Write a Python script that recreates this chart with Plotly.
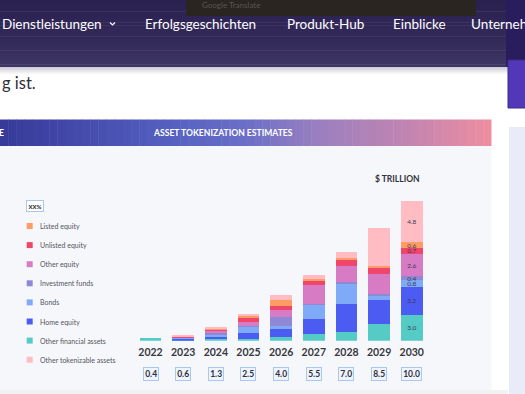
import numpy as np
import plotly.graph_objects as go

# ---------------- data ----------------
years = ["2022", "2023", "2024", "2025", "2026", "2027", "2028", "2029", "2030"]

# stacked bottom -> top
other_financial_assets = [0.31, 0.10, 0.15, 0.20, 0.38, 0.75, 0.95, 1.9, 3.0]
home_equity = [0.00, 0.18, 0.31, 0.65, 1.10, 1.70, 3.25, 2.8, 3.2]
bonds = [0.00, 0.08, 0.23, 0.80, 0.19, 1.70, 2.40, 0.5, 0.8]
investment_funds = [0.00, 0.00, 0.15, 0.05, 1.07, 0.05, 0.10, 0.2, 0.4]
other_equity = [0.00, 0.06, 0.23, 0.50, 0.84, 2.25, 1.90, 2.3, 2.6]
unlisted_equity = [0.00, 0.06, 0.23, 0.45, 0.38, 0.40, 0.65, 0.6, 0.7]
listed_equity = [0.00, 0.04, 0.08, 0.22, 0.77, 0.25, 0.25, 0.3, 0.6]
other_tokenizable_assets = [0.00, 0.08, 0.12, 0.23, 0.47, 0.50, 0.70, 4.4, 4.8]

total_labels = ["0.31", "0.6", "1.5", "3.1", "5.2", "7.6", "10.2", "13.0", "16.1"]
box_values = ["0.4", "0.6", "1.3", "2.5", "4.0", "5.5", "7.0", "8.5", "10.0"]
labelled_year = "2030"

series_names = ["Other financial assets", "Home equity", "Bonds", "Investment funds",
                "Other equity", "Unlisted equity", "Listed equity", "Other tokenizable assets"]
series_values = [other_financial_assets, home_equity, bonds, investment_funds,
                 other_equity, unlisted_equity, listed_equity, other_tokenizable_assets]
legend_order = ["Listed equity", "Unlisted equity", "Other equity", "Investment funds",
                "Bonds", "Home equity", "Other financial assets", "Other tokenizable assets"]

nav_items = ["Dienstleistungen", "Erfolgsgeschichten", "Produkt-Hub", "Einblicke", "Unternehmen"]

# ---------------- styles ----------------
colors = {
    "Other financial assets": "#55cbc5",
    "Home equity": "#4c5cf3",
    "Bonds": "#7eaaf8",
    "Investment funds": "#8e88d6",
    "Other equity": "#d77bc5",
    "Unlisted equity": "#f0466c",
    "Listed equity": "#ff9b64",
    "Other tokenizable assets": "#ffbcc2",
}
W, H = 525, 394
FONT = "Lato"
X_DOMAIN = [134.2 / W, 428.1 / W]


def px(x):
    return x / W


def py(y):
    return 1 - y / H


def hexlerp(c1, c2, t):
    a = [int(c1[i:i + 2], 16) for i in (1, 3, 5)]
    b = [int(c2[i:i + 2], 16) for i in (1, 3, 5)]
    return "#" + "".join(f"{int(round(a[k] + (b[k] - a[k]) * t)):02x}" for k in range(3))


def grad(stops, t):
    for i in range(len(stops) - 1):
        p0, c0 = stops[i]
        p1, c1 = stops[i + 1]
        if p0 <= t <= p1:
            return hexlerp(c0, c1, (t - p0) / (p1 - p0) if p1 > p0 else 0)
    return stops[-1][1]


fig = go.Figure()

for name, vals in zip(series_names, series_values):
    seg_text = [f"{v:.1f}" if yr == labelled_year else "" for yr, v in zip(years, vals)]
    fig.add_trace(go.Bar(
        x=years, y=vals, name=name, marker=dict(color=colors[name], line=dict(width=0)),
        text=seg_text, textposition="inside", insidetextanchor="middle",
        constraintext="none", cliponaxis=False, textangle=0,
        textfont=dict(family=FONT, size=6.5, color="#3a3a55"),
        showlegend=False, hoverinfo="skip",
    ))

shapes = []
annotations = []

# ---- page background decorations ----
nav_stops = [(0, "#2a2150"), (0.6, "#332a5a"), (1, "#3d3663")]
N = 24
for i in range(N):
    y0 = i * 67 / N
    y1 = (i + 1) * 67 / N + 0.5
    shapes.append(dict(type="rect", xref="paper", yref="paper", x0=0, x1=1,
                       y0=py(y1), y1=py(y0), fillcolor=grad(nav_stops, i / (N - 1)),
                       line=dict(width=0), layer="below"))
for i in range(8):
    shapes.append(dict(type="rect", xref="paper", yref="paper", x0=0, x1=1,
                       y0=py(67 + i + 1), y1=py(67 + i),
                       fillcolor=hexlerp("#cfcdd8", "#ffffff", i / 7),
                       line=dict(width=0), layer="below"))
shapes.append(dict(type="rect", xref="paper", yref="paper", x0=px(506), x1=1,
                   y0=py(67), y1=1, fillcolor="#2a1d5e", line=dict(width=0), layer="below"))
shapes.append(dict(type="rect", xref="paper", yref="paper", x0=px(186), x1=px(476),
                   y0=py(16), y1=py(-5), fillcolor="#2b2522", line=dict(width=0), layer="below"))
annotations.append(dict(text="Google Translate", xref="paper", yref="paper", x=px(200), y=py(5),
                        xanchor="left", yanchor="middle", showarrow=False,
                        font=dict(family=FONT, size=8, color="#5a5450")))
shapes.append(dict(type="rect", xref="paper", yref="paper", x0=px(508), x1=px(530),
                   y0=py(108), y1=py(60), fillcolor="#5238b8", line=dict(color="#3b2a8c", width=1),
                   layer="below"))
shapes.append(dict(type="rect", xref="paper", yref="paper", x0=px(509), x1=px(530),
                   y0=py(400), y1=py(127), fillcolor="#eaebf8", line=dict(width=0), layer="below"))
shapes.append(dict(type="rect", xref="paper", yref="paper", x0=px(-5), x1=px(491.5),
                   y0=py(390), y1=py(146), fillcolor="#f6f7fb", line=dict(width=0), layer="below"))
shapes.append(dict(type="rect", xref="paper", yref="paper", x0=px(-5), x1=px(508),
                   y0=py(400), y1=py(390), fillcolor="#f1f1f4", line=dict(width=0), layer="below"))
hdr_stops = [(0, "#373a99"), (0.35, "#5561c1"), (0.5, "#6b6fc7"), (0.65, "#9a7fc0"),
             (0.85, "#c585b0"), (1, "#ec8e9f")]
M = 60
for i in range(M):
    x0 = i * 491.5 / M
    x1 = (i + 1) * 491.5 / M + 0.5
    shapes.append(dict(type="rect", xref="paper", yref="paper", x0=px(x0), x1=px(min(x1, 491.5)),
                       y0=py(146), y1=py(119.5), fillcolor=grad(hdr_stops, i / (M - 1)),
                       line=dict(width=0), layer="below"))

nav_x = [0, 143, 285, 391, 469]
for t, x in zip(nav_items, nav_x):
    annotations.append(dict(text=t, xref="paper", yref="paper", x=px(x), y=py(24.5),
                            xanchor="left", yanchor="middle", showarrow=False,
                            font=dict(family=FONT, size=13.5, color="#ffffff")))
shapes.append(dict(type="path", xref="paper", yref="paper",
                   path=f"M {px(110)} {py(22.5)} L {px(112.5)} {py(25)} L {px(115)} {py(22.5)}",
                   line=dict(color="#ffffff", width=1.2)))
annotations.append(dict(text="g ist.", xref="paper", yref="paper", x=px(-0.5), y=py(83),
                        xanchor="left", yanchor="middle", showarrow=False,
                        font=dict(family=FONT, size=16.5, color="#2f2f35")))

annotations.append(dict(text="ASSET TOKENIZATION ESTIMATES", xref="paper", yref="paper",
                        x=px(223), y=py(133), xanchor="center", yanchor="middle", showarrow=False,
                        font=dict(family=FONT, size=8.6, color="#ffffff", weight=700)))
annotations.append(dict(text="E", xref="paper", yref="paper", x=px(-2.5), y=py(133),
                        xanchor="left", yanchor="middle", showarrow=False,
                        font=dict(family=FONT, size=8.6, color="#ffffff", weight=700)))
annotations.append(dict(text="$ TRILLION", xref="paper", yref="paper", x=px(397.5), y=py(179),
                        xanchor="center", yanchor="middle", showarrow=False,
                        font=dict(family=FONT, size=8.5, color="#333338", weight=700)))

# ---- legend (built from the series names / colors) ----
annotations.append(dict(text="XX%", xref="paper", yref="paper", x=px(35), y=py(206),
                        xanchor="center", yanchor="middle", showarrow=False,
                        font=dict(family=FONT, size=6, color="#222222", weight=700),
                        bgcolor="#ffffff", bordercolor="#a9c8f0", borderwidth=1, borderpad=1.5))
for i, name in enumerate(legend_order):
    yc = 226 + i * 19.1
    shapes.append(dict(type="rect", xref="paper", yref="paper", x0=px(26.7), x1=px(32.7),
                       y0=py(yc + 3), y1=py(yc - 3), fillcolor=colors[name],
                       line=dict(width=0)))
    annotations.append(dict(text=name, xref="paper", yref="paper", x=px(37.5), y=py(yc),
                            xanchor="left", yanchor="middle", showarrow=False,
                            font=dict(family=FONT, size=7, color="#55555c")))

# ---- totals above bars ----
totals = np.sum(np.array(series_values), axis=0)
for yr, tot, lab in zip(years, totals, total_labels):
    annotations.append(dict(text=lab, x=yr, y=float(tot), xref="x", yref="y", yanchor="bottom",
                            yshift=2.5, showarrow=False,
                            font=dict(family=FONT, size=6.5, color="#3c3c44")))

# ---- boxed values (positioned through the category axis domain) ----
n = len(years)
for i, b in enumerate(box_values):
    xc = X_DOMAIN[0] + (i + 0.5) / n * (X_DOMAIN[1] - X_DOMAIN[0])
    annotations.append(dict(text=b, x=xc, y=py(374), xref="paper", yref="paper",
                            xanchor="center", yanchor="middle", showarrow=False,
                            font=dict(family=FONT, size=8.5, color="#2e2e36", weight=700),
                            bgcolor="#eef4fd", bordercolor="#a9c8f0", borderwidth=1, borderpad=1.2))

fig.update_layout(
    width=W, height=H,
    margin=dict(l=0, r=0, t=0, b=0),
    paper_bgcolor="#ffffff",
    plot_bgcolor="rgba(0,0,0,0)",
    barmode="stack",
    bargap=0.34,
    showlegend=False,
    shapes=shapes,
    annotations=annotations,
    xaxis=dict(domain=X_DOMAIN, range=[-0.5, 8.5], type="category",
               showgrid=False, zeroline=False, showline=False, ticks="",
               ticklabelstandoff=4,
               tickfont=dict(family=FONT, size=10.5, color="#38383e", weight=700)),
    yaxis=dict(domain=[1 - 340.7 / H, 1 - 166.7 / H], range=[0, 20], visible=False,
               showgrid=False, zeroline=False),
    font=dict(family=FONT),
)

fig.write_html("out.html", config={"displayModeBar": False},
               post_script="document.body.style.margin='0';document.body.style.overflow='hidden';")
